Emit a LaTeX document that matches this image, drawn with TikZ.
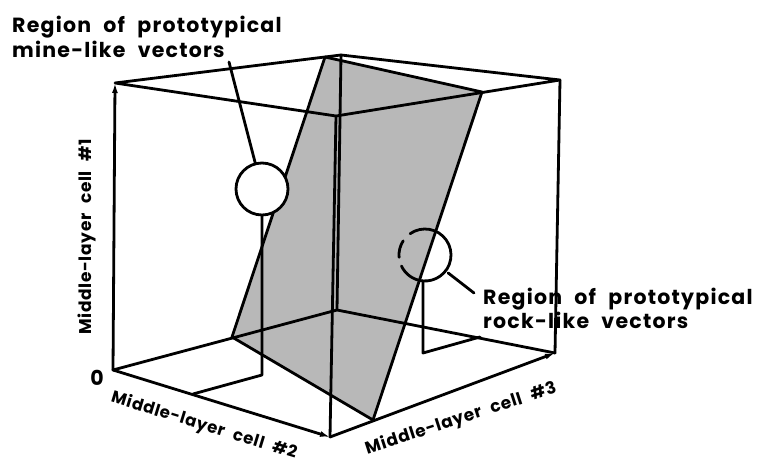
\documentclass[tikz,border=0pt]{standalone}
\usepackage{fontspec}
\setmainfont{Poppins}[WordSpace=2.2]
\usetikzlibrary{arrows.meta}
\begin{document}
\begin{tikzpicture}[x=1pt,y=-1pt,
  edge/.style={line width=2.8pt, line join=round, line cap=round},
  axis/.style={edge, -{Latex[length=10pt,width=6pt]}},
  lbl/.style={font=\bfseries\fontsize{20.5}{24}\selectfont\addfontfeatures{LetterSpace=6}, inner sep=0pt, anchor=base west},
  axlbl/.style={font=\bfseries\fontsize{17}{20}\selectfont\addfontfeatures{LetterSpace=4}, inner sep=0pt},
  planefill/.style={fill=black!28, draw=none}]
\useasboundingbox (0,0) rectangle (758,465);
% cube corners
\coordinate (O)  at (113,370);
\coordinate (TL) at (115,83);
\coordinate (BF) at (330,437);
\coordinate (BR) at (555,353);
\coordinate (BB) at (337,310);
\coordinate (TB) at (341,55);
\coordinate (TR) at (560,80);
\coordinate (TF) at (336,116);
% plane corners
\coordinate (P1) at (325,57);
\coordinate (P2) at (482,92);
\coordinate (P3) at (373,420);
\coordinate (P4) at (232,337);
% plane
\fill[planefill] (P1) -- (P2) -- (P3) -- (P4) -- cycle;
% rock circle
\node[circle, minimum size=52pt, inner sep=0pt] (rock) at (425,255) {};
\draw[edge] ([shift={(rock.center)}]-125:26) arc[start angle=-125, end angle=95, radius=26];
\draw[edge] ([shift={(rock.center)}]-185:26) arc[start angle=-185, end angle=-147, radius=26];
\draw[edge] ([shift={(rock.center)}]-265:26) arc[start angle=-265, end angle=-205, radius=26];
% cube edges
\draw[edge] (TL) -- (TB) -- (TR) -- (TF) -- cycle;
\draw[edge] (TF) -- (BF);
\draw[edge] (TB) -- (BB);
\draw[edge] (TR) -- (BR);
\draw[edge] (O) -- (BB) -- (BR);
% plane edges
\draw[edge] (P1) -- (P4) -- (P3) -- (P2) -- (P1);
% axes
\draw[axis] (O) -- (TL);
\draw[axis] (O) -- (BF);
\draw[axis] (BF) -- (BR);
% mine circle
\node[circle, minimum size=52pt, inner sep=0pt, draw, line width=2.8pt, fill=white] (mine) at (262,189) {};
% drop lines
\coordinate (mfloor) at (262,375);
\coordinate (maxis) at (193,394);
\draw[edge] (mine.south) -- (mfloor) -- (maxis);
\coordinate (rfloor) at (423,353);
\coordinate (raxis) at (480,337);
\draw[edge] (rock.south -| rfloor) -- (rfloor) -- (raxis);
% leaders
\coordinate (mlead) at (229,62);
\draw[edge] (mlead) -- (mine);
\coordinate (rlead) at (474,293);
\draw[edge, shorten <=3pt] (rock) -- (rlead);
% labels
\node[lbl] (mine1) at (12,33) {Region of prototypical};
\node[lbl] (mine2) at (12,58) {mine-like vectors};
\node[lbl] (rock1) at (483,305) {Region of prototypical};
\node[lbl] (rock2) at (483,328) {rock-like vectors};
\node[lbl, anchor=center] (zero) at (97,378) {0};
\node[axlbl, rotate=90] (ax1) at (87,237) {Middle-layer cell \#1};
\node[axlbl, rotate=-17, font=\bfseries\fontsize{16.5}{20}\selectfont\addfontfeatures{LetterSpace=4}] (ax2) at (204,426) {Middle-layer cell \#2};
\node[axlbl, rotate=18] (ax3) at (461,419) {Middle-layer cell \#3};
\end{tikzpicture}
\end{document}
